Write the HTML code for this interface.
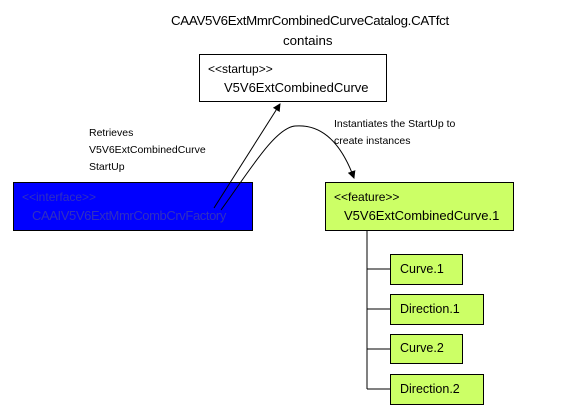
<!DOCTYPE html>
<html><head><style>
body{margin:0;width:563px;height:418px;background:#fff;position:relative;overflow:hidden;font-family:"Liberation Sans",sans-serif}
.b{position:absolute;border:1px solid #000;box-sizing:border-box}
.t{position:absolute;white-space:nowrap}
</style></head><body>
<div class="t" style="left:171px;top:13px;font-size:13.3px;letter-spacing:-0.3px">CAAV5V6ExtMmrCombinedCurveCatalog.CATfct</div>
<div class="t" style="left:283px;top:33px;font-size:13.3px">contains</div>
<div class="b" style="left:199px;top:54px;width:188px;height:48px;background:#fff"></div>
<div class="t" style="left:208px;top:62px;font-size:12px">&lt;&lt;startup&gt;&gt;</div>
<div class="t" style="left:224px;top:80px;font-size:13px">V5V6ExtCombinedCurve</div>
<div class="t" style="left:89px;top:125px;font-size:10.5px;line-height:17px">Retrieves<br>V5V6ExtCombinedCurve<br>StartUp</div>
<div class="t" style="left:334px;top:116px;font-size:10.5px;line-height:17px">Instantiates the StartUp to<br>create instances</div>
<div class="b" style="left:13px;top:182px;width:240px;height:49px;background:#0000ff"></div>
<div class="t" style="left:22px;top:190px;font-size:12px;color:#3030c0">&lt;&lt;interface&gt;&gt;</div>
<div class="t" style="left:32px;top:208px;font-size:13px;letter-spacing:-0.4px;color:#3030c0">CAAIV5V6ExtMmrCombCrvFactory</div>
<div class="b" style="left:325px;top:182px;width:189px;height:49px;background:#ccff66"></div>
<div class="t" style="left:334px;top:190px;font-size:12px">&lt;&lt;feature&gt;&gt;</div>
<div class="t" style="left:344px;top:208px;font-size:13px">V5V6ExtCombinedCurve.1</div>
<div class="b" style="left:390px;top:254px;width:73px;height:31px;background:#ccff66"></div>
<div class="t" style="left:400px;top:262px;font-size:12.5px">Curve.1</div>
<div class="b" style="left:390px;top:294px;width:94px;height:31px;background:#ccff66"></div>
<div class="t" style="left:400px;top:302px;font-size:12.5px">Direction.1</div>
<div class="b" style="left:390px;top:334px;width:73px;height:30px;background:#ccff66"></div>
<div class="t" style="left:400px;top:341px;font-size:12.5px">Curve.2</div>
<div class="b" style="left:390px;top:374px;width:94px;height:31px;background:#ccff66"></div>
<div class="t" style="left:400px;top:382px;font-size:12.5px">Direction.2</div>
<svg width="563" height="418" style="position:absolute;left:0;top:0" fill="none" stroke="#000" stroke-width="1">
<defs><marker id="a" markerWidth="8" markerHeight="8" refX="7" refY="4" orient="auto" markerUnits="userSpaceOnUse"><path d="M0,0L8,4L0,8z" fill="#000" stroke="none"/></marker></defs>
<line x1="214" y1="208" x2="280" y2="104" marker-end="url(#a)"/>
<path d="M221,210 C250,170 275,128 295,126 C320,124 340,140 354,178" marker-end="url(#a)"/>
<path d="M367,231V389M367,269H390M367,309H390M367,349H390M367,389H390"/>
</svg>
</body></html>
